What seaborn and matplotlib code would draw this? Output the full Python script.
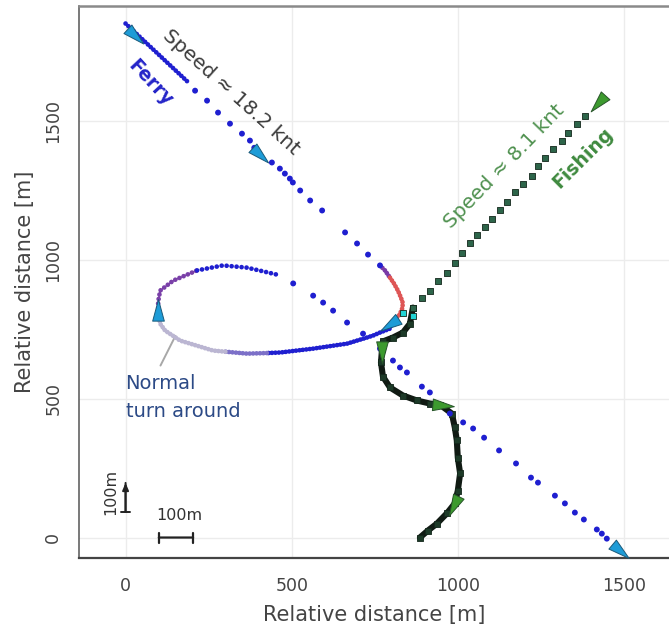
import matplotlib
matplotlib.use("Agg")
import matplotlib.pyplot as plt
import pandas as pd
import seaborn as sns
from matplotlib.markers import MarkerStyle
from matplotlib.path import Path
from matplotlib.transforms import Affine2D

sns.set_theme(style="white")
plt.rcParams["font.family"] = ["DejaVu Sans"]

# ---------------- Ferry track (relative position, metres) ----------------
# dense fixes at the start of the run-in
ferry_start_x = [0, 185]
ferry_start_y = [1853, 1645]
# individual fixes along the run-in
ferry_run_x = [209, 245, 278, 314, 350, 374, 387, 440, 464, 479, 494, 503, 525,
               555, 591, 660, 696, 729, 765]
ferry_run_y = [1611, 1575, 1532, 1492, 1456, 1431, 1405, 1352, 1330, 1312, 1294,
               1280, 1251, 1215, 1179, 1100, 1060, 1020, 981]
# slowing into the turn
ferry_slow_x = [765, 780, 795]
ferry_slow_y = [981, 963, 937]
ferry_turn_x = [795, 807, 819, 828, 834, 831, 822, 801]
ferry_turn_y = [937, 916, 890, 865, 844, 822, 800, 775]
# lower arc of the loop, heading west
ferry_low_x = [801, 795, 765, 744, 726, 666, 564, 465, 425]
ferry_low_y = [775, 753, 739, 728, 721, 699, 681, 667, 665]
ferry_low_mid_x = [425, 365, 300]
ferry_low_mid_y = [665, 663, 670]
ferry_low_end_x = [300, 263, 164, 119, 104, 98]
ferry_low_end_y = [670, 674, 710, 746, 771, 811]
# upper arc, heading back east
ferry_up_turn_x = [98, 98, 104, 143, 215]
ferry_up_turn_y = [811, 850, 890, 926, 963]
ferry_up_x = [215, 293, 365, 430, 465]
ferry_up_y = [963, 981, 973, 955, 945]
ferry_out_x = [504, 564, 594, 624, 666, 714, 765, 804, 825, 846, 891, 915, 975,
               1015, 1045, 1078, 1123, 1174, 1219, 1240, 1291, 1321, 1351, 1378,
               1417, 1432, 1447]
ferry_out_y = [916, 872, 847, 818, 775, 735, 681, 638, 613, 595, 544, 523, 447,
               415, 393, 360, 314, 267, 216, 198, 151, 123, 90, 65, 29, 14, -4]
# heading arrows along the ferry track
ferry_arrow_x = [23, 398, 801, 98, 1480]
ferry_arrow_y = [1817, 1388, 775, 811, -40]
ferry_arrow_deg = [-133, -133, 123, 0, -130]

# ---------------- Fishing vessel track ----------------
fish_run_x = [1381, 1357, 1330, 1312, 1285, 1261, 1240, 1222, 1195, 1171, 1147,
              1126, 1102, 1081, 1057, 1036, 1012, 990, 966, 939, 915, 891, 864]
fish_run_y = [1521, 1492, 1460, 1431, 1402, 1370, 1341, 1305, 1276, 1244, 1208,
              1179, 1150, 1118, 1089, 1060, 1024, 991, 955, 926, 890, 862, 829]
fish_cyan_x = [864, 834]
fish_cyan_y = [800, 811]
fish_slow_x = [864, 855, 834, 804, 774, 771, 768, 774, 795, 834, 876, 915, 945,
               981, 990, 996, 999, 1006, 999, 990, 966, 936, 909, 885]
fish_slow_y = [829, 771, 739, 721, 707, 678, 631, 580, 541, 512, 494, 483, 479,
               447, 397, 350, 288, 231, 169, 123, 87, 50, 25, 0]
fish_arrow_x = [1426, 771, 945, 990]
fish_arrow_y = [1575, 678, 479, 123]
fish_arrow_deg = [138, 180, -95, 154]

FERRY_BLUE = "#1f1fd0"
FISH_FILL = "#2d654a"
FISH_EDGE = "#13271b"

fig = plt.figure(figsize=(6.69, 6.29), dpi=100)
ax = fig.add_axes([79 / 669, 71.5 / 629, 590 / 669, 552 / 629])


def dotted(xs, ys, color, lw=3.4, gap=0.72, z=3):
    df = pd.DataFrame({"x": xs, "y": ys})
    sns.lineplot(data=df, x="x", y="y", sort=False, estimator=None, ax=ax,
                 color=color, lw=lw, linestyle=(0, (0.01, gap)),
                 dash_capstyle="round", zorder=z)


def dots(xs, ys, color, size=18, marker="o", edge="none", z=4):
    df = pd.DataFrame({"x": xs, "y": ys})
    sns.scatterplot(data=df, x="x", y="y", ax=ax, color=color, s=size,
                    marker=marker, edgecolor=edge, linewidth=0.6, zorder=z)


def arrows(xs, ys, angles, fill, edge):
    head = Path([(0, 1.0), (-0.42, -0.55), (0.42, -0.55), (0, 1.0)],
                [Path.MOVETO, Path.LINETO, Path.LINETO, Path.CLOSEPOLY])
    for x, y, a in zip(xs, ys, angles):
        m = MarkerStyle(head, transform=Affine2D().rotate_deg(a))
        sns.scatterplot(x=[x], y=[y], ax=ax, marker=m, s=400, color=fill,
                        edgecolor=edge, linewidth=0.7, zorder=8)


# fishing vessel
sns.lineplot(x=fish_slow_x, y=fish_slow_y, sort=False, estimator=None, ax=ax,
             color="#101a13", lw=4.4, zorder=3)
dots(fish_slow_x, fish_slow_y, "#1d3a28", size=18, marker="s", edge=FISH_EDGE, z=4)
dots(fish_run_x, fish_run_y, FISH_FILL, size=20, marker="s", edge=FISH_EDGE, z=4)
dots(fish_cyan_x, fish_cyan_y, "#22d4d4", size=20, marker="s", edge=FISH_EDGE, z=5)

# ferry
dotted(ferry_start_x, ferry_start_y, FERRY_BLUE, gap=0.8)
dots(ferry_run_x, ferry_run_y, FERRY_BLUE)
dotted(ferry_slow_x, ferry_slow_y, "#7a3aa6")
dotted(ferry_turn_x, ferry_turn_y, "#de5656")
dotted(ferry_low_x, ferry_low_y, FERRY_BLUE)
dotted(ferry_low_mid_x, ferry_low_mid_y, "#7c70c8")
dotted(ferry_low_end_x, ferry_low_end_y, "#bbb6d2")
dotted(ferry_up_turn_x, ferry_up_turn_y, "#7a40a8", gap=0.95)
dotted(ferry_up_x, ferry_up_y, FERRY_BLUE, gap=1.05)
dots(ferry_out_x, ferry_out_y, FERRY_BLUE)

arrows(fish_arrow_x, fish_arrow_y, fish_arrow_deg, "#3d9a2f", "#28552a")
arrows(ferry_arrow_x, ferry_arrow_y, ferry_arrow_deg, "#1e9cd7", "#1a5a7a")

# annotations
ax.text(317, 1604, "Speed \u2248 18.2 knt", rotation=-42, rotation_mode="anchor",
        ha="center", va="center", fontsize=14.5, color="#3c3c3c", zorder=9)
ax.text(74, 1640, "Ferry", rotation=-47, rotation_mode="anchor", ha="center",
        va="center", fontsize=13.5, fontweight="bold", color="#2424c8", zorder=9)
ax.text(1139, 1337, "Speed \u2248 8.1 knt", rotation=46, rotation_mode="anchor",
        ha="center", va="center", fontsize=14.5, color="#4f914f", zorder=9)
ax.text(1376, 1370, "Fishing", rotation=45, rotation_mode="anchor", ha="center",
        va="center", fontsize=13.5, fontweight="bold", color="#3f8a3f", zorder=9)
ax.text(0, 505, "Normal\nturn around", ha="left", va="center", fontsize=14,
        color="#2c4a86", linespacing=1.55, zorder=9)
ax.plot([105, 150], [620, 727], color="#a8a8a8", lw=1.4, zorder=2)

# scale bars
ax.annotate("", xy=(0, 197), xytext=(0, 92),
            arrowprops=dict(arrowstyle="-|>,head_length=0.35,head_width=0.15",
                            color="#222222", lw=1.4, shrinkA=0, shrinkB=0))
ax.annotate("", xy=(0, 197), xytext=(0, 92),
            arrowprops=dict(arrowstyle="|-|,widthA=0.25,widthB=0",
                            color="#222222", lw=1.4, shrinkA=0, shrinkB=0))
ax.text(-46, 163, "100m", rotation=90, ha="center", va="center", fontsize=11.5,
        color="#333333")
ax.annotate("", xy=(203, 0), xytext=(100, 0),
            arrowprops=dict(arrowstyle="|-|,widthA=0.3,widthB=0.3",
                            color="#222222", lw=1.6, shrinkA=0, shrinkB=0))
ax.text(92, 78, "100m", ha="left", va="center", fontsize=11.5, color="#333333")

# axes styling
ax.set_xlim(-140, 1634)
ax.set_ylim(-72, 1918)
ax.set_xticks([0, 500, 1000, 1500])
ax.set_yticks([0, 500, 1000, 1500])
ax.grid(True, color="#ececec", lw=1.0)
ax.set_axisbelow(True)
ax.set_xlabel("Relative distance [m]", fontsize=15, color="#444444", labelpad=7)
ax.set_ylabel("Relative distance [m]", fontsize=15, color="#444444", labelpad=7)
ax.tick_params(axis="both", direction="out", length=6, width=1.1, color="#555555",
               labelsize=12.5, labelcolor="#444444", pad=8)
ax.tick_params(axis="y", labelrotation=90, pad=6)
for lab in ax.get_yticklabels():
    lab.set_va("center")
ax.spines["right"].set_visible(False)
ax.spines["top"].set_color("#8a8a8a")
ax.spines["top"].set_linewidth(1.8)
ax.spines["left"].set_color("#555555")
ax.spines["left"].set_linewidth(1.1)
ax.spines["bottom"].set_color("#444444")
ax.spines["bottom"].set_linewidth(1.6)

fig.savefig("out.png", dpi=100, facecolor="white")
